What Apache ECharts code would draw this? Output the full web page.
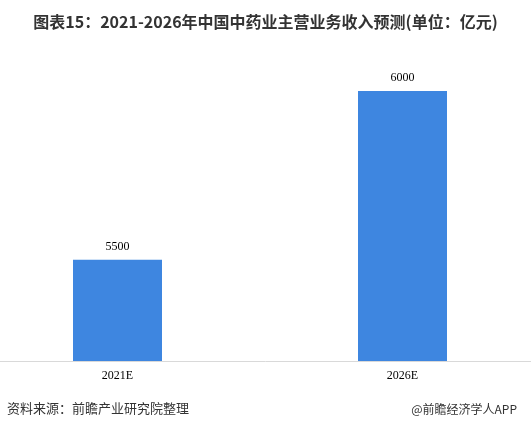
<!DOCTYPE html>
<html>
<head>
<meta charset="utf-8">
<script src="https://cdn.jsdelivr.net/npm/echarts@6/dist/echarts.min.js"></script>
<style>html,body{margin:0;padding:0;background:#fff}#c{width:531px;height:439px}</style>
</head>
<body>
<div id="c"></div>
<script>
var categories = ['2021E', '2026E'];
var revenue = [5500, 6000];
var titleText = '图表15：2021-2026年中国中药业主营业务收入预测(单位：亿元)';
var sourceText = '资料来源：前瞻产业研究院整理';
var brandText = '@前瞻经济学人APP';

var chart = echarts.init(document.getElementById('c'), null, {renderer: 'canvas'});
chart.setOption({
  animation: false,
  backgroundColor: '#ffffff',
  title: {
    text: titleText,
    left: 'center',
    top: 9,
    textStyle: {fontFamily: 'Noto Sans CJK SC', fontWeight: 'bold', fontSize: 16, color: '#333333'}
  },
  graphic: [
    {type: 'text', left: 7, top: 402, style: {text: sourceText, font: '13px "Noto Sans CJK SC"', fill: '#333333'}},
    {type: 'text', right: 14, top: 403, style: {text: brandText, font: '12px "Noto Sans CJK SC"', fill: '#333333'}}
  ],
  grid: {left: -25, right: -14, top: 91, bottom: 78, containLabel: false, outerBoundsMode: 'none'},
  xAxis: {
    type: 'category',
    data: categories,
    axisLine: {lineStyle: {color: '#d9d9d9', width: 1}},
    axisTick: {show: false},
    axisLabel: {fontFamily: 'Liberation Serif', fontSize: 12, color: '#000000', margin: 9}
  },
  yAxis: {
    type: 'value',
    min: 5200,
    max: 6000,
    show: false,
    splitLine: {show: false}
  },
  series: [{
    type: 'bar',
    data: revenue,
    barWidth: 89,
    itemStyle: {color: '#3e86e0'},
    label: {show: true, position: 'top', distance: 7, fontFamily: 'Liberation Serif', fontSize: 12, color: '#000000'}
  }]
});
</script>
</body>
</html>
